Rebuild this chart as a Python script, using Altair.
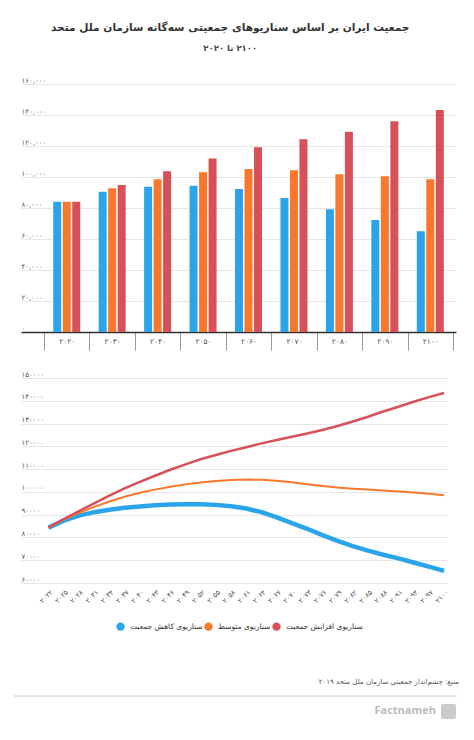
import altair as alt
import pandas as pd

TITLE = "جمعیت ایران بر اساس سناریوهای جمعیتی سه‌گانه سازمان ملل متحد"
SUBTITLE = "۲۰۲۰ تا \u200e۲۱۰۰"
SOURCE = "منبع: چشم‌انداز جمعیتی سازمان ملل متحد ۲۰۱۹"
BRAND = "Factnameh"

scenarios = ["سناریوی کاهش جمعیت", "سناریوی متوسط", "سناریوی افزایش جمعیت"]
colors = ["#2aa5ea", "#fa782c", "#d8505a"]

# Bar chart (decades)
bar_years = ["۲۰۲۰", "۲۰۳۰", "۲۰۴۰", "۲۰۵۰", "۲۰۶۰", "۲۰۷۰", "۲۰۸۰", "۲۰۹۰", "۲۱۰۰"]
bar_low = [84000, 90500, 93700, 94400, 92300, 86500, 79200, 72300, 65000]
bar_mid = [84000, 92700, 98500, 103000, 105200, 104300, 101700, 100500, 98500]
bar_high = [84000, 94800, 103700, 112000, 119200, 124300, 129200, 135900, 143200]
bar_y_ticks = [0, 20000, 40000, 60000, 80000, 100000, 120000, 140000, 160000]

# Line chart
line_years = ["۲۰۲۲", "۲۰۲۵", "۲۰۲۸", "۲۰۳۱", "۲۰۳۴", "۲۰۳۷", "۲۰۴۰", "۲۰۴۳", "۲۰۴۶",
              "۲۰۴۹", "۲۰۵۲", "۲۰۵۵", "۲۰۵۸", "۲۰۶۱", "۲۰۶۴", "۲۰۶۷", "۲۰۷۰", "۲۰۷۳",
              "۲۰۷۶", "۲۰۷۹", "۲۰۸۲", "۲۰۸۵", "۲۰۸۸", "۲۰۹۱", "۲۰۹۴", "۲۰۹۷", "۲۱۰۰"]
line_low = [84300, 87400, 89600, 91100, 92200, 93000, 93600, 94100, 94500, 94600, 94600,
            94300, 93700, 92700, 91100, 88800, 86300, 83800, 81000, 78500, 76200, 74200,
            72400, 70800, 69000, 67200, 65300]
line_mid = [84300, 87800, 90800, 93400, 95800, 97900, 99600, 101000, 102300, 103300, 104100,
            104800, 105200, 105400, 105300, 104900, 104200, 103400, 102600, 101900, 101400,
            101000, 100600, 100200, 99700, 99200, 98500]
line_high = [84300, 88100, 91600, 95000, 98400, 101500, 104400, 107100, 109700, 112100, 114300,
             116200, 118000, 119600, 121300, 122800, 124200, 125600, 127200, 128900, 130900,
             133000, 135300, 137400, 139600, 141600, 143400]
line_y_ticks = [60000, 70000, 80000, 90000, 100000, 110000, 120000, 130000, 140000, 150000]

FONT = "DejaVu Sans"


def fa_digits(expr):
    for i, d in enumerate("۰۱۲۳۴۵۶۷۸۹"):
        expr = f"replace({expr}, regexp('{i}', 'g'), '{d}')"
    return expr


bar_rows = []
for s, vals in zip(scenarios, [bar_low, bar_mid, bar_high]):
    for y, v in zip(bar_years, vals):
        bar_rows.append({"year": y, "scenario": s, "value": v})
bar_df = pd.DataFrame(bar_rows)

line_rows = []
for s, vals in zip(scenarios, [line_low, line_mid, line_high]):
    for y, v in zip(line_years, vals):
        line_rows.append({"year": y, "scenario": s, "value": v})
line_df = pd.DataFrame(line_rows)

color_scale = alt.Scale(domain=scenarios, range=colors)

bar = alt.Chart(bar_df).mark_bar().encode(
    x=alt.X("year:N", sort=bar_years,
            scale=alt.Scale(paddingInner=0, paddingOuter=0.286, align=0.885),
            axis=alt.Axis(title=None, tickBand="extent", tickSize=18, tickColor="#999",
                          domainColor="#333", domainWidth=1.5, labelAngle=0,
                          labelFontSize=7.5, labelColor="#555", labelPadding=-13,
                          grid=False)),
    xOffset=alt.XOffset("scenario:N", sort=scenarios,
                        scale=alt.Scale(paddingInner=0.158, paddingOuter=0.97)),
    y=alt.Y("value:Q", scale=alt.Scale(domain=[0, 160000], nice=False),
            axis=alt.Axis(title=None, values=bar_y_ticks, domain=False, ticks=False,
                          labelAlign="left", labelBaseline="bottom", labelPadding=0,
                          labelOffset=-1, labelOverlap=False,
                          labelExpr=fa_digits("format(datum.value, ',')"),
                          labelFontSize=7, labelColor="#555", gridColor="#e6e6e6")),
    color=alt.Color("scenario:N", scale=color_scale, legend=None),
).properties(width=435, height=248)

legend = alt.Legend(title=None, orient="none", legendX=95, legendY=244,
                    direction="horizontal", symbolType="circle", symbolSize=70,
                    symbolStrokeWidth=0, labelFontSize=7.5, labelColor="#333",
                    columnPadding=1, labelOffset=5)

base = alt.Chart(line_df).encode(
    x=alt.X("year:N", sort=line_years,
            scale=alt.Scale(type="point", padding=1.03, align=0.904),
            axis=alt.Axis(title=None, labelAngle=-45, domain=False, ticks=False,
                          labelFontSize=7, labelColor="#555", labelPadding=5, grid=False)),
    y=alt.Y("value:Q", scale=alt.Scale(domain=[60000, 150000], nice=False, zero=False),
            axis=alt.Axis(title=None, values=line_y_ticks, domain=False, ticks=False,
                          labelAlign="left", labelBaseline="bottom", labelPadding=0,
                          labelOffset=-1, labelOverlap=False,
                          labelExpr=fa_digits("format(datum.value, 'd')"),
                          labelFontSize=7, labelColor="#555", gridColor="#e6e6e6")),
    color=alt.Color("scenario:N", scale=color_scale, legend=legend),
)

legend_layer = base.transform_filter(alt.datum.value < 0).mark_circle(opacity=1)

lines = alt.layer(
    legend_layer,
    base.transform_filter(alt.datum.scenario == scenarios[0]).mark_line(strokeWidth=4.5),
    base.transform_filter(alt.datum.scenario == scenarios[1]).mark_line(strokeWidth=2),
    base.transform_filter(alt.datum.scenario == scenarios[2]).mark_line(strokeWidth=2.5),
).properties(width=426, height=205)

footer_df = pd.DataFrame({"k": [0]})
src = alt.Chart(footer_df).mark_text(align="right", baseline="middle", fontSize=7,
                                     color="#555", text=SOURCE).encode(
    x=alt.value(438), y=alt.value(32))
rule = alt.Chart(footer_df).mark_rule(color="#cccccc", strokeWidth=1).encode(
    x=alt.value(-7), x2=alt.value(436), y=alt.value(46))
brand = alt.Chart(footer_df).mark_text(align="right", baseline="middle", fontSize=11,
                                       fontWeight="bold", color="#bbbbbb", font="Open Sans",
                                       text=BRAND).encode(
    x=alt.value(415), y=alt.value(61))
icon = alt.Chart(footer_df).mark_rect(color="#cccccc", cornerRadius=2).encode(
    x=alt.value(420), x2=alt.value(435), y=alt.value(54), y2=alt.value(69))
footer = alt.layer(src, rule, brand, icon).properties(width=436, height=70)

chart = alt.vconcat(bar, lines, footer, spacing=19).resolve_scale(
    color="independent").resolve_legend(color="independent").properties(
    title=alt.TitleParams(TITLE, subtitle=SUBTITLE, anchor="middle", fontSize=10.6,
                          fontWeight="bold", color="#333", subtitleFontSize=8.5,
                          subtitleFontWeight="bold", subtitleColor="#444",
                          subtitlePadding=10, offset=24, dx=-6, font=FONT,
                          subtitleFont=FONT),
    padding={"left": 5, "top": 14, "right": 5, "bottom": 0},
).configure(font=FONT).configure_view(stroke=None)

chart.save("out.html", embed_options={"renderer": "svg", "actions": False})
